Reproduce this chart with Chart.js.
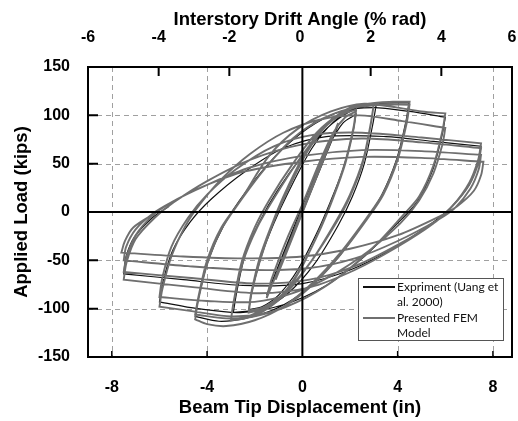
<!DOCTYPE html>
<html>
<head>
<meta charset="utf-8">
<script src="https://cdn.jsdelivr.net/npm/chart.js@4.4.1/dist/chart.umd.min.js"></script>
<style>
  html, body { margin: 0; padding: 0; background: #fff; }
  canvas { display: block; }
</style>
</head>
<body>
<canvas id="loopChart" width="518" height="421"></canvas>
<script>
// axis ticks
const dispTicks = [-8, -4, 0, 4, 8];
const driftTicks = [-6, -4, -2, 0, 2, 4, 6];
const loadTicks = [-150, -100, -50, 0, 50, 100, 150];

// FEM hysteresis path, one half-cycle per row (in, kips)
const femDisp = [
  0, 0.75, -0.75, 1.12, -1.12, 1.5, -1.5,
  -1.3, -0.6, 0, 0.7, 1.3, 1.8, 2.25,
  2.15, 1.8, 1.3, 0.8, 0, -0.8, -1.6, -2.25,
  -2.15, -1.8, -1.3, -0.8, 0, 0.8, 1.6, 2.25,
  2.15, 1.8, 1.3, 0.8, 0, -0.8, -1.6, -2.25,
  -2.15, -1.8, -1.3, -0.7, 0.2, 1.1, 2.0, 3.0,
  2.88, 2.55, 2.0, 1.4, 0.4, -0.6, -1.6, -2.4, -3.0,
  -2.88, -2.55, -2.0, -1.4, -0.4, 0.6, 1.6, 2.4, 3.0,
  2.88, 2.55, 2.0, 1.4, 0.4, -0.6, -1.6, -2.4, -3.0,
  -2.88, -2.5, -1.9, -1.2, -0.2, 0.8, 1.8, 2.8, 3.8, 4.5,
  4.38, 4.0, 3.4, 2.7, 1.6, 0.4, -0.8, -2.0, -3.2, -4.0, -4.5,
  -4.38, -4.0, -3.4, -2.7, -1.6, -0.4, 0.8, 2.0, 3.2, 4.5,
  4.38, 4.0, 3.4, 2.7, 1.6, 0.4, -0.8, -2.0, -3.2, -4.5,
  -4.35, -4.0, -3.4, -2.6, -1.4, -0.2, 1.2, 2.6, 4.0, 5.0, 6.0,
  5.88, 5.5, 4.9, 4.2, 3.0, 1.6, 0.2, -1.4, -3.0, -4.5, -6.0,
  -5.88, -5.5, -4.9, -4.3, -3.4, -2.2, -0.8, 0.8, 2.4, 4.2, 6.0,
  5.88, 5.5, 4.9, 4.1, 2.8, 1.2, -0.4, -2.0, -4.0, -6.0,
  -5.88, -5.5, -4.8, -4.0, -2.8, -1.2, 0.5, 2.5, 5.0, 7.5,
  7.38, 7.0, 6.3, 5.5, 4.0, 2.2, 0.3, -1.8, -4.5, -7.5,
  -7.38, -7.0, -6.2, -5.4, -4.0, -2.2, 0, 2.5, 5.0, 7.5,
  7.38, 7.0, 6.3, 5.6, 4.0, 2.2, 0.3, -2.0, -4.8, -7.5,
  -7.38, -7.0, -6.3, -5.5, -4.0, -2.2, 0, 2.5, 5.0, 7.5,
  7.4, 7.05, 6.4, 5.7, 4.0, 2.2, 0.3, -2.0, -4.8, -7.5,
  -7.4, -7.0, -6.3, -5.5, -4.2, -2.4, 0, 2.5, 5.0, 7.6,
  7.5, 7.2, 6.5, 5.8, 4.0, 2.0, 0, -2.5, -5.0, -7.6,
  -7.45, -7.1, -6.1
];
const femLoad = [
  0, 48, -47, 72, -70, 92, -89,
  -70, -25, 8, 50, 82, 98, 104,
  86, 50, 15, -15, -55, -84, -98, -102,
  -84, -48, -14, 16, 56, 86, 100, 106,
  88, 52, 16, -14, -56, -86, -100, -104,
  -86, -52, -16, 18, 62, 92, 108, 112,
  92, 52, 16, -12, -50, -80, -100, -109, -111,
  -92, -52, -16, 12, 50, 82, 102, 110, 112,
  93, 54, 18, -10, -50, -82, -102, -110, -112,
  -93, -52, -16, 14, 52, 84, 104, 112, 114, 114,
  95, 56, 20, -6, -42, -74, -98, -112, -118, -116, -111,
  -92, -54, -18, 8, 44, 76, 96, 107, 111, 111,
  92, 54, 18, -8, -44, -76, -98, -108, -110, -106,
  -86, -50, -16, 12, 58, 86, 104, 112, 108, 104, 102,
  84, 48, 16, -4, -36, -66, -88, -104, -108, -103, -98,
  -80, -46, -14, 8, 34, 60, 82, 96, 100, 94, 87,
  70, 40, 12, -12, -40, -66, -84, -93, -92, -88,
  -68, -36, -6, 18, 44, 68, 80, 82, 77, 71,
  54, 30, 6, -12, -36, -60, -78, -84, -78, -70,
  -52, -28, -6, 10, 32, 54, 70, 76, 72, 66,
  50, 28, 6, -10, -34, -56, -70, -74, -68, -62,
  -46, -24, -4, 10, 28, 46, 58, 64, 63, 59,
  44, 24, 4, -8, -30, -48, -58, -60, -56, -50,
  -36, -18, -2, 10, 26, 42, 52, 57, 56, 52,
  38, 22, 6, -4, -24, -38, -46, -48, -46, -42,
  -30, -16, 0
];

// test record (Uang et al. 2000)
const expDisp = [
  0, 0.55, -0.55, 0.75, -0.75, 1.12, -1.12, 1.47, -1.5,
  -1.0, -0.3, 0.4, 1.1, 1.7, 2.25,
  2.1, 1.7, 1.2, 0.6, -0.2, -1.0, -1.7, -2.25,
  -2.1, -1.7, -1.2, -0.6, 0.4, 1.3, 2.2, 3.1,
  2.95, 2.6, 2.1, 1.5, 0.5, -0.6, -1.7, -2.9,
  -2.75, -2.4, -1.8, -1.0, 0, 1.0, 2.0, 3.0, 4.47,
  4.35, 3.95, 3.3, 2.5, 1.4, 0.2, -1.1, -2.4, -3.5, -4.5,
  -4.35, -3.95, -3.3, -2.4, -1.2, 0.2, 1.6, 3.0, 4.5, 6.0,
  5.85, 5.45, 4.8, 3.9, 2.6, 1.0, -0.8, -2.6, -4.4, -6.0,
  -5.85, -5.45, -4.7, -3.8, -2.4, -0.8, 1.0, 3.5, 5.5, 7.5,
  7.38, 7.0, 6.2, 5.3, 3.8, 2.0, 0, -2.5, -5.0, -7.5,
  -7.4, -7.05, -6.3, -5.6
];
const expLoad = [
  0, 35, -34, 48, -46, 70, -68, 88, -86,
  -55, -12, 30, 68, 92, 101,
  80, 44, 12, -22, -60, -86, -98, -101,
  -80, -44, -12, 20, 66, 93, 107, 111,
  90, 50, 16, -14, -54, -84, -100, -104,
  -82, -44, -10, 24, 58, 86, 104, 112, 113,
  94, 54, 16, -14, -50, -80, -100, -110, -113, -108,
  -88, -50, -14, 20, 56, 86, 104, 108, 104, 98,
  78, 42, 10, -14, -46, -76, -96, -104, -100, -93,
  -72, -40, -10, 14, 42, 66, 78, 78, 73, 68,
  52, 28, 4, -14, -38, -60, -74, -76, -70, -64,
  -46, -26, -6, 6
];

const FONT = '"Liberation Sans", Arial, sans-serif';

// build {x,y} points; turning points are doubled so the spline keeps a sharp corner there
function toPoints(xs, ys) {
  const pts = [];
  for (let i = 0; i < xs.length; i++) {
    pts.push({ x: xs[i], y: ys[i] });
    if (i > 0 && i < xs.length - 1) {
      const a = xs[i] - xs[i - 1], b = xs[i + 1] - xs[i];
      if (a * b < 0) pts.push({ x: xs[i], y: ys[i] });
    }
  }
  return pts;
}

function fixTicks(values) {
  return scale => { scale.ticks = values.map(v => ({ value: v })); };
}

// fixed box size, no extra room for overhanging labels
function fixSize(w, h) {
  return s => {
    if (w) s.width = w;
    if (h) s.height = h;
    s.paddingLeft = s.paddingRight = s.paddingTop = s.paddingBottom = 0;
  };
}

// dashed grid underneath, axes / frame / inner tick marks on top
const frame = {
  id: 'frame',
  beforeDatasetsDraw(chart) {
    const { ctx, chartArea: a, scales: { x, y } } = chart;
    ctx.save();
    ctx.strokeStyle = '#a0a0a0';
    ctx.lineWidth = 1;
    ctx.setLineDash([5, 4]);
    ctx.beginPath();
    dispTicks.filter(v => v !== 0).forEach(v => {
      const px = Math.round(x.getPixelForValue(v)) + 0.5;
      ctx.moveTo(px, a.top); ctx.lineTo(px, a.bottom);
    });
    loadTicks.filter(v => v !== 0 && Math.abs(v) !== 150).forEach(v => {
      const py = Math.round(y.getPixelForValue(v)) + 0.5;
      ctx.moveTo(a.left, py); ctx.lineTo(a.right, py);
    });
    ctx.stroke();
    ctx.restore();
  },
  afterDatasetsDraw(chart) {
    const { ctx, chartArea: a, scales: { x, x2, y } } = chart;
    ctx.save();
    ctx.strokeStyle = '#000';
    ctx.lineWidth = 2;
    ctx.beginPath();
    const x0 = x.getPixelForValue(0), y0 = y.getPixelForValue(0);
    ctx.moveTo(x0, a.top); ctx.lineTo(x0, a.bottom);
    ctx.moveTo(a.left, y0); ctx.lineTo(a.right, y0);
    loadTicks.filter(v => Math.abs(v) !== 150 && v !== 0).forEach(v => {
      const py = y.getPixelForValue(v);
      ctx.moveTo(a.left, py); ctx.lineTo(a.left + 10, py);
    });
    driftTicks.filter(v => Math.abs(v) !== 6 && v !== 0).forEach(v => {
      const px = x2.getPixelForValue(v);
      ctx.moveTo(px, a.top); ctx.lineTo(px, a.top + 9);
    });
    ctx.stroke();
    ctx.lineWidth = 1.5;
    ctx.beginPath();
    dispTicks.filter(v => v !== 0).forEach(v => {
      const px = x.getPixelForValue(v);
      ctx.moveTo(px, a.bottom); ctx.lineTo(px, a.bottom - 6);
    });
    ctx.stroke();
    ctx.lineWidth = 2;
    ctx.strokeRect(a.left, a.top, a.right - a.left, a.bottom - a.top);
    ctx.restore();
  },
  afterDraw(chart) {
    const { ctx, chartArea: a } = chart;
    const box = { x: a.right - 154, y: a.top + 211, w: 145, h: 62 };
    ctx.save();
    ctx.fillStyle = '#fff';
    ctx.fillRect(box.x, box.y, box.w, box.h);
    ctx.strokeStyle = '#555';
    ctx.lineWidth = 1;
    ctx.strokeRect(box.x + 0.5, box.y + 0.5, box.w, box.h);
    ctx.font = '12px Lato, "Open Sans", sans-serif';
    ctx.textBaseline = 'middle';
    ctx.fillStyle = '#111';
    let ly = box.y + 9;
    // legend entries in reading order: test first, then FEM
    [chart.data.datasets[1], chart.data.datasets[0]].forEach(ds => {
      ctx.strokeStyle = ds.borderColor;
      ctx.lineWidth = 2;
      ctx.beginPath();
      ctx.moveTo(box.x + 5, ly); ctx.lineTo(box.x + 37, ly);
      ctx.stroke();
      // wrap label to the box width
      const words = ds.label.split(' ');
      let line = '';
      const lines = [];
      words.forEach(w => {
        const test = line ? line + ' ' + w : w;
        if (ctx.measureText(test).width > 102 && line) { lines.push(line); line = w; }
        else line = test;
      });
      lines.push(line);
      lines.forEach(t => { ctx.fillText(t, box.x + 39, ly); ly += 15; });
      ly += 1;
    });
    ctx.restore();
  }
};

const tickFont = { family: FONT, size: 16, weight: 'bold' };
const titleFont = { family: FONT, size: 18.5, weight: 'bold' };

new Chart(document.getElementById('loopChart'), {
  type: 'scatter',
  data: {
    datasets: [
      {
        label: 'Presented FEM Model',
        data: toPoints(femDisp, femLoad),
        showLine: true,
        borderColor: '#6f6f6f',
        borderWidth: 1.9,
        pointRadius: 0,
        tension: 0.3,
        order: 1
      },
      {
        label: 'Expriment (Uang et al. 2000)',
        data: toPoints(expDisp, expLoad),
        showLine: true,
        borderColor: '#111111',
        borderWidth: 1.2,
        pointRadius: 0,
        tension: 0.3,
        order: 2
      }
    ]
  },
  options: {
    responsive: false,
    animation: false,
    layout: { padding: { right: 6, left: 0, top: 0, bottom: 0 } },
    plugins: { legend: { display: false }, tooltip: { enabled: false } },
    scales: {
      x: {
        type: 'linear', position: 'bottom', min: -9, max: 8.8,
        afterBuildTicks: fixTicks(dispTicks),
        afterFit: fixSize(0, 64),
        grid: { display: false, drawTicks: false },
        border: { display: false },
        ticks: { font: tickFont, color: '#000', padding: 21 },
        title: { display: true, text: 'Beam Tip Displacement (in)', font: titleFont, color: '#000', padding: { top: 0, bottom: 1.5 } }
      },
      x2: {
        type: 'linear', position: 'top', min: -6, max: 6,
        afterBuildTicks: fixTicks(driftTicks),
        afterFit: fixSize(0, 67),
        grid: { display: false, drawTicks: false },
        border: { display: false },
        ticks: { font: tickFont, color: '#000', padding: 20 },
        title: { display: true, text: 'Interstory Drift Angle (% rad)', font: titleFont, color: '#000', padding: { top: 9, bottom: 0 } }
      },
      y: {
        type: 'linear', position: 'left', min: -150, max: 150,
        afterBuildTicks: fixTicks(loadTicks),
        afterFit: fixSize(88, 0),
        grid: { display: false, drawTicks: false },
        border: { display: false },
        ticks: { font: tickFont, color: '#000', padding: 18 },
        title: { display: true, text: 'Applied Load (kips)', font: titleFont, color: '#000', padding: { top: 11, bottom: 0 } }
      }
    }
  },
  plugins: [frame]
});
</script>
</body>
</html>
